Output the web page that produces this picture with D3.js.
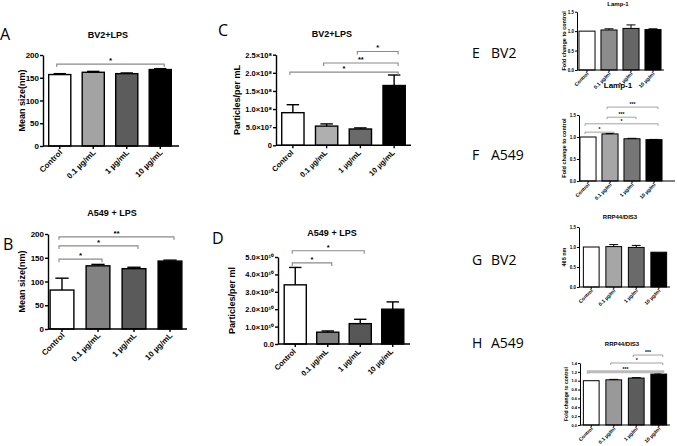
<!DOCTYPE html>
<html>
<head>
<meta charset="utf-8">
<script src="https://cdn.jsdelivr.net/npm/d3@7"></script>
<style>
  body { margin: 0; background: #fff; }
  text { font-family: "Liberation Sans", Arial, sans-serif; }
</style>
</head>
<body>
<svg id="fig" width="677" height="446"></svg>
<script>
// categories
const catsNTA = ["Control", "0.1 µg/mL", "1 µg/mL", "10 µg/mL"];
const catsWB = ["Control", "0.1 µg/ml", "1 µg/ml", "10 µg/ml"];

// A / B  mean size (nm)
const sizeBV2 = [157, 162, 159, 168];
const sizeBV2Err = [2, 2, 1.5, 2];
const sizeA549 = [82, 133, 127, 143];
const sizeA549Err = [25, 3, 3, 2];

// C / D  particles per mL
const partBV2 = [9.0e7, 5.3e7, 4.5e7, 1.65e8];
const partBV2Err = [2.2e7, 0.6e7, 0.3e7, 2.9e7];
const partA549 = [3.4e10, 0.68e10, 1.17e10, 2.0e10];
const partA549Err = [1.0e10, 0.07e10, 0.25e10, 0.42e10];

// E-H  fold change
const lampBV2 = [1.0, 1.03, 1.07, 1.04];
const lampBV2Err = [0, 0.03, 0.09, 0.02];
const lampA549 = [1.0, 1.07, 0.96, 0.94];
const lampA549Err = [0, 0.01, 0.01, 0.005];
const rrpBV2 = [1.0, 1.01, 0.99, 0.87];
const rrpBV2Err = [0, 0.05, 0.05, 0];
const rrpA549 = [1.0, 1.02, 1.06, 1.15];
const rrpA549Err = [0, 0.01, 0.01, 0.02];

// significance brackets: [from, to, label, y]
const sigA = [[0, 3, "*", 180]];
const sigB = [[0, 3, "**", 194], [0, 2, "*", 175], [0, 1, "*", 147]];
const sigC = [[2, 3, "*", 2.59e8], [1, 3, "**", 2.27e8], [0, 3, "*", 2.02e8]];
const sigD = [[0, 2, "*", 5.36e10], [0, 1, "*", 4.66e10]];
const sigF = [[1, 3, "***", 1.68], [1, 2, "***", 1.45], [0, 3, "*", 1.30], [0, 1, "*", 1.11]];
const sigH = [[2, 3, "***", 1.58], [1, 3, "*", 1.40], [0, 3, "***", 1.20]];

// tick values / labels
const ticksSize = [0, 50, 100, 150, 200];
const ticksC = [0, 5e7, 1e8, 1.5e8, 2e8, 2.5e8];
const ticksCLabels = ["0", "5.0×10⁷", "1.0×10⁸", "1.5×10⁸", "2.0×10⁸", "2.5×10⁸"];
const ticksD = [0, 1e10, 2e10, 3e10, 4e10, 5e10];
const ticksDLabels = ["0.0", "1.0×10¹⁰", "2.0×10¹⁰", "3.0×10¹⁰", "4.0×10¹⁰", "5.0×10¹⁰"];
const ticksFold = [0, 0.5, 1.0, 1.5];
const ticksH = [0, 0.2, 0.4, 0.6, 0.8, 1.0, 1.2, 1.4];

const svg = d3.select("#fig");

function panel(p) {
  const g = svg.append("g");
  const x = d3.scaleBand().domain(p.cats).range(p.band).paddingInner(p.pad).paddingOuter(p.pad / 2);
  const y = d3.scaleLinear().domain([0, p.max]).range([p.yb, p.yt]);
  const cx = d => x(d) + x.bandwidth() / 2;

  // bars
  g.selectAll("rect.bar").data(p.values).enter().append("rect")
    .attr("x", (d, i) => x(p.cats[i]))
    .attr("y", d => y(d))
    .attr("width", x.bandwidth())
    .attr("height", d => y(0) - y(d))
    .attr("fill", (d, i) => p.colors[i])
    .attr("stroke", "#000")
    .attr("stroke-width", p.sw);

  // error bars, upper half only
  const cap = x.bandwidth() * 0.28;
  p.values.forEach((v, i) => {
    if (!p.err[i]) return;
    const c = cx(p.cats[i]);
    g.append("line").attr("x1", c).attr("x2", c).attr("y1", y(v)).attr("y2", y(v + p.err[i]))
      .attr("stroke", "#000").attr("stroke-width", p.sw);
    g.append("line").attr("x1", c - cap).attr("x2", c + cap).attr("y1", y(v + p.err[i])).attr("y2", y(v + p.err[i]))
      .attr("stroke", "#000").attr("stroke-width", p.sw);
  });

  // y axis
  const ya = d3.axisLeft(y).tickValues(p.ticks).tickSize(p.tk).tickSizeOuter(0).tickPadding(1);
  if (p.tickLabels) ya.tickFormat((d, i) => p.tickLabels[i]);
  else ya.tickFormat(p.fmt);
  const yg = g.append("g").attr("transform", `translate(${p.ax},0)`).call(ya);
  yg.select(".domain").attr("stroke-width", p.sw);
  yg.selectAll(".tick line").attr("stroke-width", p.sw);
  yg.selectAll("text").attr("font-size", p.yt_fs || p.fs).attr("font-weight", "bold").attr("fill", "#000");

  // x axis
  const xa = d3.axisBottom(x).tickSize(p.tk).tickSizeOuter(0).tickFormat("");
  const xg = g.append("g").attr("transform", `translate(0,${p.yb})`).call(xa);
  xg.select(".domain").remove();
  xg.selectAll(".tick line").attr("stroke-width", p.sw);
  g.append("line").attr("x1", p.ax).attr("x2", p.axEnd).attr("y1", p.yb).attr("y2", p.yb)
    .attr("stroke", "#000").attr("stroke-width", p.sw);
  g.selectAll("text.xl").data(p.cats).enter().append("text")
    .attr("transform", d => `translate(${cx(d) + p.xlOff[0]},${p.yb + p.xlOff[1]}) rotate(-45)`)
    .attr("text-anchor", "end")
    .attr("font-size", p.fs).attr("font-weight", "bold")
    .text(d => d);

  // y label
  g.append("text")
    .attr("transform", `translate(${p.ax - p.ylOff},${(p.yb + p.yt) / 2}) rotate(-90)`)
    .attr("text-anchor", "middle").attr("dominant-baseline", "middle")
    .attr("font-size", p.yfs).attr("font-weight", "bold")
    .text(p.ylabel);

  if (p.title) {
    g.append("text").attr("x", p.title[1]).attr("y", p.title[2])
      .attr("text-anchor", "middle").attr("font-size", p.title[3]).attr("font-weight", "bold")
      .text(p.title[0]);
  }

  // significance brackets
  (p.sig || []).forEach(s => {
    const x1 = cx(p.cats[s[0]]) - 3, x2 = cx(p.cats[s[1]]) + 4, yy = y(s[3]);
    const wide = s[4];
    g.append("path")
      .attr("d", `M${x1},${yy + p.bt}V${yy}H${x2}V${yy + p.bt}`)
      .attr("fill", "none").attr("stroke", wide ? "#bbb" : "#8a8a8a")
      .attr("stroke-width", wide ? 3 : p.sw * 0.8);
    g.append("text").attr("x", (x1 + x2) / 2).attr("y", yy - 1)
      .attr("text-anchor", "middle").attr("font-size", p.fs).attr("font-weight", "bold")
      .text(s[2]);
  });
}

panel({ cats: catsNTA, values: sizeBV2, err: sizeBV2Err, band: [43, 177], pad: 0.34, ax: 43, axEnd: 179,
  yb: 146, yt: 55, max: 200, ticks: ticksSize, fmt: d3.format("d"), sw: 1.4, tk: 3, fs: 8, yfs: 9,
  colors: ["#fff", "#a3a3a3", "#5c5c5c", "#000"], xlOff: [3, 7], ylOff: 20,
  ylabel: "Mean size(nm)", title: ["BV2+LPS", 108, 38, 9], sig: sigA, bt: 3 });

panel({ cats: catsNTA, values: sizeA549, err: sizeA549Err, band: [44, 188], pad: 0.34, ax: 48, axEnd: 187,
  yb: 329, yt: 234, max: 200, ticks: ticksSize, fmt: d3.format("d"), sw: 1.4, tk: 3, fs: 8, yfs: 9,
  colors: ["#fff", "#828282", "#5a5a5a", "#000"], xlOff: [3, 7], ylOff: 25,
  ylabel: "Mean size(nm)", title: ["A549 + LPS", 112, 216, 9], sig: sigB, bt: 3 });

panel({ cats: catsNTA, values: partBV2, err: partBV2Err, band: [276, 411], pad: 0.34, ax: 276, axEnd: 411,
  yb: 145.3, yt: 54.7, max: 2.5e8, ticks: ticksC, tickLabels: ticksCLabels, sw: 1.4, tk: 3, fs: 7.5, yfs: 9,
  colors: ["#fff", "#afafaf", "#6a6a6a", "#000"], xlOff: [1, 8], ylOff: 38,
  ylabel: "Particles/per mL", title: ["BV2+LPS", 332, 37, 9], sig: sigC, bt: 3 });

panel({ cats: catsNTA, values: partA549, err: partA549Err, band: [279, 409], pad: 0.32, ax: 278, axEnd: 410,
  yb: 344, yt: 257, max: 5e10, ticks: ticksD, tickLabels: ticksDLabels, sw: 1.4, tk: 3, fs: 7.5, yfs: 9,
  colors: ["#fff", "#7f7f7f", "#575757", "#000"], xlOff: [1, 8], ylOff: 45,
  ylabel: "Particles/per ml", title: ["A549 + LPS", 332, 236, 9], sig: sigD, bt: 3 });

panel({ cats: catsWB, values: lampBV2, err: lampBV2Err, band: [576, 664], pad: 0.27, ax: 577, axEnd: 664,
  yb: 70, yt: 11.7, max: 1.5, ticks: ticksFold, fmt: d3.format(".1f"), sw: 1, tk: 2, fs: 5, yt_fs: 4.5, yfs: 5.5,
  colors: ["#fff", "#8c8c8c", "#666", "#000"], xlOff: [2, 4], ylOff: 12,
  ylabel: "Fold change to control", title: ["Lamp-1", 618, 6, 6], sig: [], bt: 2 });

panel({ cats: catsWB, values: lampA549, err: lampA549Err, band: [577, 665], pad: 0.27, ax: 579, axEnd: 675,
  yb: 181, yt: 115, max: 1.5, ticks: ticksFold, fmt: d3.format(".1f"), sw: 1, tk: 2, fs: 5, yt_fs: 4.5, yfs: 5.5,
  colors: ["#fff", "#a6a6a6", "#777", "#000"], xlOff: [2, 4], ylOff: 14,
  ylabel: "Fold change to control", title: ["Lamp-1", 618, 88, 8], sig: sigF, bt: 2 });

panel({ cats: catsWB, values: rrpBV2, err: rrpBV2Err, band: [580, 670], pad: 0.3, ax: 579, axEnd: 670,
  yb: 287, yt: 227, max: 1.5, ticks: ticksFold, fmt: d3.format(".1f"), sw: 1, tk: 2, fs: 5, yt_fs: 4.5, yfs: 5.5,
  colors: ["#fff", "#a6a6a6", "#6a6a6a", "#000"], xlOff: [2, 4], ylOff: 14,
  ylabel: "465 nm", title: ["RRP44/DIS3", 620, 219, 6], sig: [], bt: 2 });

sigH[2][4] = true;
panel({ cats: catsWB, values: rrpA549, err: rrpA549Err, band: [580, 670], pad: 0.3, ax: 580, axEnd: 670,
  yb: 425, yt: 363, max: 1.4, ticks: ticksH, fmt: d3.format(".1f"), sw: 1, tk: 2, fs: 5, yt_fs: 4, yfs: 5,
  colors: ["#fff", "#999", "#5c5c5c", "#000"], xlOff: [2, 4], ylOff: 13,
  ylabel: "Fold change to control", title: ["RRP44/DIS3", 622, 346, 6], sig: sigH, bt: 2 });

// panel letters
const letters = [["A", 0, 40], ["B", 3, 250], ["C", 218, 36], ["D", 212, 244]];
svg.selectAll("text.letter").data(letters).enter().append("text")
  .attr("x", d => d[1]).attr("y", d => d[2])
  .attr("font-size", 16).style("font-family", "'Open Sans', sans-serif")
  .text(d => d[0]);

const sideLabels = [["E", "BV2", 58], ["F", "A549", 160], ["G", "BV2", 265], ["H", "A549", 348]];
sideLabels.forEach(d => {
  svg.append("text").attr("x", 472).attr("y", d[2]).attr("font-size", 14)
    .style("font-family", "'Open Sans', sans-serif").text(d[0]);
  svg.append("text").attr("x", 491).attr("y", d[2]).attr("font-size", 14)
    .style("font-family", "'Open Sans', sans-serif").text(d[1]);
});
</script>
</body>
</html>
